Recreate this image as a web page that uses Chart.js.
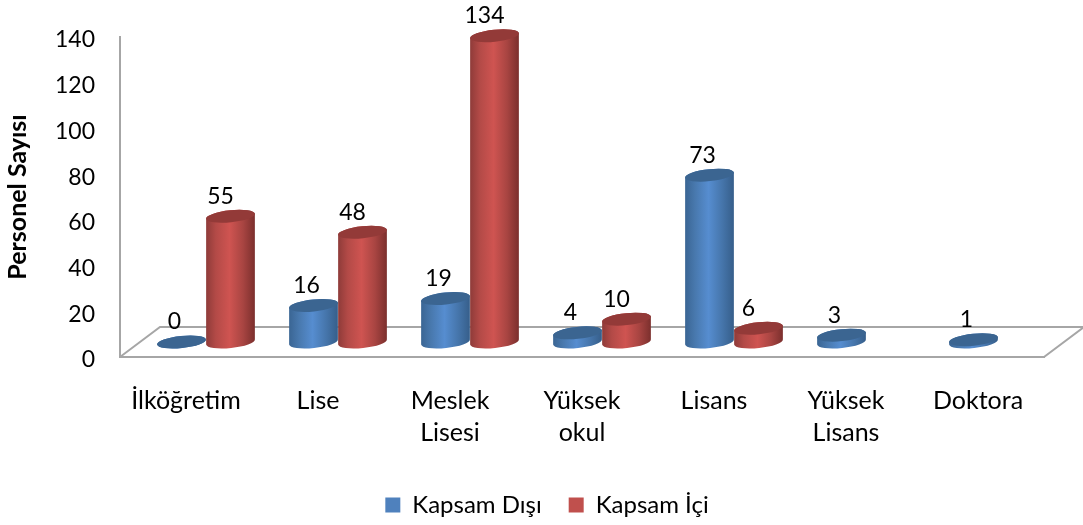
<!DOCTYPE html>
<html>
<head>
<meta charset="utf-8">
<title>Personel Sayısı</title>
<script src="https://cdn.jsdelivr.net/npm/chart.js@4"></script>
<style>
  html, body { margin: 0; padding: 0; background: #fff; }
  #wrap { width: 1083px; height: 525px; }
</style>
</head>
<body>
<div id="wrap"><canvas id="myChart"></canvas></div>
<script>
const categories = [['İlköğretim'], ['Lise'], ['Meslek', 'Lisesi'], ['Yüksek', 'okul'], ['Lisans'], ['Yüksek', 'Lisans'], ['Doktora']];
const kapsamDisi = [0, 16, 19, 4, 73, 3, 1];
const kapsamIci = [55, 48, 134, 10, 6, null, null];
const yTicks = [0, 20, 40, 60, 80, 100, 120, 140];

const fontName = 'Lato, "Open Sans", sans-serif';
const palette = [
  { legend: '#4f81bd', labelShift: -7, top: '#3b6591', side: ['#3a6593', '#4878ad', '#568dd0', '#4676ac', '#365e8a'] },
  { legend: '#c0504d', labelShift: -10, top: '#933a38', side: ['#8e3b39', '#b34a47', '#cf5451', '#a94542', '#7b2f2d'] }
];
const floorColor = '#a6a6a6';
const depthX = 40, depthY = 30; // floor depth, bars stand halfway in
const tilt = -6 * Math.PI / 180;

// floor lines behind the bars
const floorPlugin = {
  id: 'floor',
  beforeDatasetsDraw(chart) {
    const { ctx, chartArea: a } = chart;
    ctx.save();
    ctx.strokeStyle = floorColor;
    ctx.lineWidth = 2;
    ctx.beginPath();
    ctx.moveTo(a.left, a.bottom);
    ctx.lineTo(a.left + depthX, a.bottom - depthY);
    ctx.lineTo(a.right + depthX, a.bottom - depthY);
    ctx.lineTo(a.right, a.bottom);
    ctx.stroke();
    ctx.restore();
  }
};

function drawCylinder(ctx, bar, colors) {
  const rx = bar.width / 2, ry = 6;
  const cx = bar.x + depthX / 2;
  const topY = bar.y - depthY / 2;
  const baseY = bar.base - depthY / 2;

  const grad = ctx.createLinearGradient(cx - rx, 0, cx + rx, 0);
  [0, 0.2, 0.48, 0.75, 1].forEach((stop, i) => grad.addColorStop(stop, colors.side[i]));
  ctx.fillStyle = grad;
  ctx.beginPath();
  ctx.ellipse(cx, baseY, rx, ry, tilt, 0, Math.PI);
  ctx.ellipse(cx, topY, rx, ry, tilt, Math.PI, 0);
  ctx.closePath();
  ctx.fill();

  ctx.fillStyle = colors.top;
  ctx.beginPath();
  ctx.ellipse(cx, topY, rx, ry, tilt, 0, Math.PI * 2);
  ctx.fill();
}

// cylinders and value labels, placed from the bar elements of the chart
const cylinderPlugin = {
  id: 'cylinders',
  beforeDraw(chart) {
    // the legend sits a little right of the page centre
    chart.legend.left = 11;
    chart.legend.right = chart.width;
  },
  afterDatasetsDraw(chart) {
    const ctx = chart.ctx;
    ctx.save();
    categories.forEach((c, i) => {
      chart.data.datasets.forEach((ds, d) => {
        if (ds.data[i] === null) return;
        drawCylinder(ctx, chart.getDatasetMeta(d).data[i], palette[d]);
      });
    });
    ctx.fillStyle = '#000';
    ctx.font = '23px ' + fontName;
    ctx.textAlign = 'center';
    ctx.textBaseline = 'middle';
    categories.forEach((c, i) => {
      chart.data.datasets.forEach((ds, d) => {
        if (ds.data[i] === null) return;
        const bar = chart.getDatasetMeta(d).data[i];
        ctx.fillText(ds.data[i], bar.x + depthX / 2 + palette[d].labelShift, bar.y - depthY / 2 - 20);
      });
    });
    ctx.restore();
  }
};

new Chart(document.getElementById('myChart'), {
  type: 'bar',
  data: {
    labels: categories,
    datasets: [
      { label: 'Kapsam Dışı', data: kapsamDisi, backgroundColor: 'transparent' },
      { label: 'Kapsam İçi', data: kapsamIci, backgroundColor: 'transparent' }
    ]
  },
  options: {
    responsive: true,
    maintainAspectRatio: false,
    animation: false,
    categoryPercentage: 98 / 132,
    barPercentage: 1,
    layout: { padding: { top: 37, right: 39, left: 0, bottom: 0 } },
    plugins: {
      tooltip: { enabled: false },
      legend: {
        position: 'bottom',
        maxHeight: 59,
        labels: {
          boxWidth: 15,
          boxHeight: 15,
          padding: 27,
          color: '#000',
          font: { family: fontName, size: 24 },
          generateLabels: function (chart) {
            return chart.data.datasets.map((ds, i) => ({
              text: ds.label,
              fillStyle: palette[i].legend,
              strokeStyle: palette[i].legend,
              lineWidth: 0,
              datasetIndex: i
            }));
          }
        }
      }
    },
    scales: {
      x: {
        grid: { display: false },
        border: { display: true, color: floorColor, width: 2 },
        afterFit: function (scale) { scale.height = 109; },
        ticks: {
          padding: 20,
          color: '#000',
          maxRotation: 0,
          font: { family: fontName, size: 25, lineHeight: 1.28 }
        }
      },
      y: {
        min: 0,
        max: 140,
        grid: { display: false },
        border: { display: true, color: floorColor, width: 2 },
        afterFit: function (scale) { scale.width = 120; },
        afterBuildTicks: function (scale) { scale.ticks = yTicks.map(v => ({ value: v })); },
        title: {
          display: true,
          text: 'Personel Sayısı',
          color: '#000',
          font: { family: fontName, size: 25, weight: 'bold' },
          padding: { top: 3, bottom: 0 }
        },
        ticks: {
          padding: 17,
          labelOffset: 3,
          color: '#000',
          font: { family: fontName, size: 23 }
        }
      }
    }
  },
  plugins: [floorPlugin, cylinderPlugin]
});
</script>
</body>
</html>
